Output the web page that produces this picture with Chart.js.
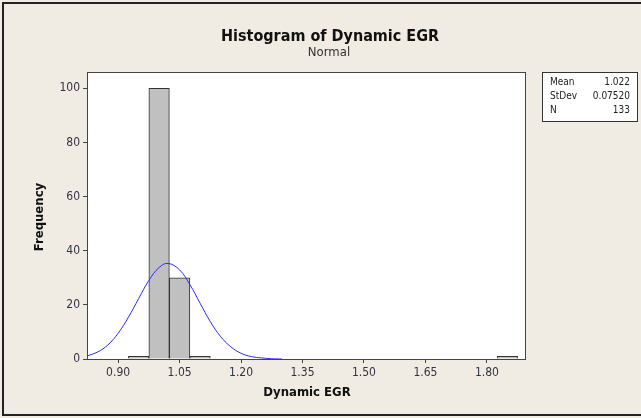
<!DOCTYPE html>
<html>
<head>
<meta charset="utf-8">
<script src="https://cdn.jsdelivr.net/npm/chart.js@4"></script>
<style>
  html, body { margin: 0; padding: 0; background: #f0ece3; }
  #wrap { width: 641px; height: 418px; }
</style>
</head>
<body>
<div id="wrap"><canvas id="histChart" width="641" height="418"></canvas></div>
<script>
// histogram bins (centres, width 0.05) and counts
const binCenters = [0.95, 1.00, 1.05, 1.10, 1.85];
const binCounts = [1, 100, 30, 1, 1];

// fitted normal curve
const curveX = [0.824, 0.85, 0.875, 0.90, 0.925, 0.95, 0.975, 1.00, 1.022, 1.05, 1.075, 1.10, 1.125, 1.15, 1.175, 1.20, 1.225, 1.25, 1.275, 1.30];
const curveY = [1.1, 2.6, 5.2, 9.5, 15.4, 22.3, 29.0, 33.8, 35.3, 32.9, 27.5, 20.6, 13.8, 8.3, 4.5, 2.1, 0.9, 0.4, 0.1, 0.0];

const xTicks = [0.90, 1.05, 1.20, 1.35, 1.50, 1.65, 1.80];
const yTicks = [0, 20, 40, 60, 80, 100];

const statLabels = ['Mean', 'StDev', 'N'];
const statValues = ['1.022', '0.07520', '133'];

const FONT = "'DejaVu Sans Condensed', 'DejaVu Sans', sans-serif";

const decorPlugin = {
    id: 'decor',
    beforeDraw(chart) {
        const c = chart.ctx;
        c.save();
        c.fillStyle = '#f0ece3';
        c.fillRect(0, 0, chart.width, chart.height);
        const a = chart.chartArea;
        c.fillStyle = '#ffffff';
        c.fillRect(a.left, a.top, a.right - a.left, a.bottom - a.top);
        c.restore();
    },
    afterDraw(chart) {
        const c = chart.ctx;
        const a = chart.chartArea;
        c.save();
        // plot frame
        c.strokeStyle = '#444444';
        c.lineWidth = 1;
        c.strokeRect(Math.round(a.left) + 0.5, Math.round(a.top) + 0.5, Math.round(a.right - a.left), Math.round(a.bottom - a.top));

        // outer border (open on the right)
        c.strokeStyle = '#222222';
        c.lineWidth = 2;
        c.beginPath();
        c.moveTo(641, 3);
        c.lineTo(3, 3);
        c.lineTo(3, 415);
        c.lineTo(641, 415);
        c.stroke();

        // titles
        c.fillStyle = '#111111';
        c.textAlign = 'center';
        c.textBaseline = 'alphabetic';
        c.font = 'bold 16px ' + FONT;
        c.fillText('Histogram of Dynamic EGR', 330, 41);
        c.font = '13px ' + FONT;
        c.fillStyle = '#333333';
        c.fillText('Normal', 329, 56);

        c.fillStyle = '#111111';
        c.font = 'bold 13px ' + FONT;
        c.fillText('Dynamic EGR', 307, 396);

        c.save();
        c.translate(43, 217);
        c.rotate(-Math.PI / 2);
        c.fillText('Frequency', 0, 0);
        c.restore();

        // stats box
        c.fillStyle = '#ffffff';
        c.fillRect(542, 72, 95, 49);
        c.strokeStyle = '#333333';
        c.lineWidth = 1;
        c.strokeRect(542.5, 72.5, 95, 49);
        c.font = '10px ' + FONT;
        c.fillStyle = '#222222';
        for (let i = 0; i < statLabels.length; i++) {
            const y = 85 + i * 14;
            c.textAlign = 'left';
            c.fillText(statLabels[i], 550, y);
            c.textAlign = 'right';
            c.fillText(statValues[i], 630, y);
        }
        c.restore();
    }
};

const ctx = document.getElementById('histChart').getContext('2d');
const histChart = new Chart(ctx, {
    type: 'bar',
    data: {
        datasets: [
            {
                type: 'line',
                label: 'Normal',
                data: curveX.map((x, i) => ({ x: x, y: curveY[i] })),
                borderColor: '#2a2aff',
                borderWidth: 1,
                pointRadius: 0,
                tension: 0.4,
                fill: false,
                order: 0
            },
            {
                label: 'Dynamic EGR',
                data: binCenters.map((x, i) => ({ x: x, y: binCounts[i] })),
                backgroundColor: '#c0c0c0',
                borderColor: '#333333',
                borderWidth: 1,
                barPercentage: 1.0,
                categoryPercentage: 1.0,
                order: 1
            }
        ]
    },
    options: {
        responsive: false,
        animation: false,
        layout: {
            padding: { left: 40, right: 116, top: 72, bottom: 30 }
        },
        scales: {
            x: {
                type: 'linear',
                min: 0.824,
                max: 1.893,
                offset: false,
                afterBuildTicks: (scale) => { scale.ticks = xTicks.map(v => ({ value: v })); },
                afterFit: (scale) => { scale.height = 29; },
                grid: {
                    offset: false,
                    drawOnChartArea: false,
                    drawTicks: true,
                    tickLength: 4,
                    color: '#444444'
                },
                border: { color: '#444444' },
                ticks: {
                    color: '#333344',
                    padding: 3,
                    maxRotation: 0,
                    autoSkip: false,
                    font: { size: 12, family: FONT },
                    callback: (v) => Number(v).toFixed(2)
                }
            },
            y: {
                min: 0,
                max: 106,
                afterBuildTicks: (scale) => { scale.ticks = yTicks.map(v => ({ value: v })); },
                afterFit: (scale) => { scale.width = 47; },
                grid: {
                    drawOnChartArea: false,
                    drawTicks: true,
                    tickLength: 4,
                    color: '#444444'
                },
                border: { color: '#444444' },
                ticks: {
                    color: '#333344',
                    padding: 3,
                    font: { size: 12, family: FONT }
                }
            }
        },
        plugins: {
            legend: { display: false },
            title: { display: false },
            tooltip: { enabled: false }
        }
    },
    plugins: [decorPlugin]
});
</script>
</body>
</html>
